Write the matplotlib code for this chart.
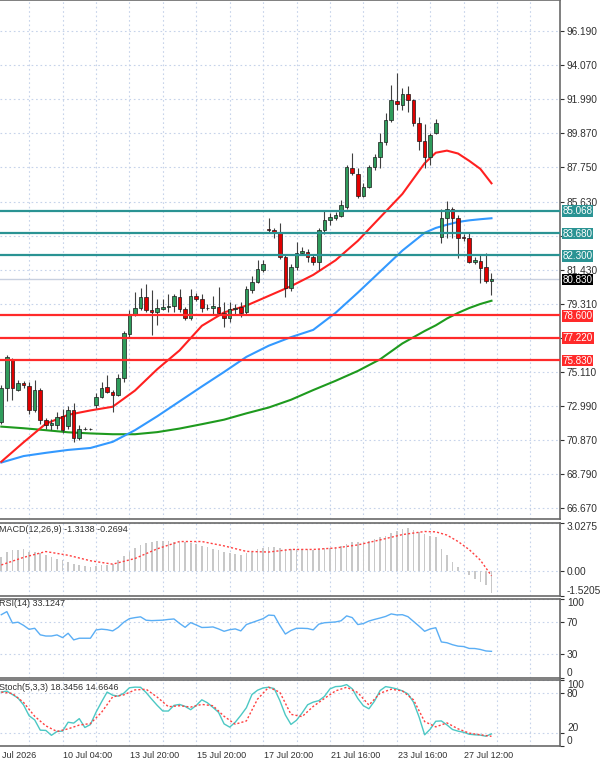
import numpy as np
import matplotlib.pyplot as plt
from matplotlib import transforms

# 4H candles (oldest first)
opens = [72.03, 74.09, 75.84, 74.00, 74.43, 74.20, 72.75, 73.98, 72.13, 71.82,
         71.82, 72.37, 71.75, 72.75, 71.00, 71.56, 71.60, 73.06, 73.57, 74.19,
         73.88, 73.67, 74.73, 77.45, 78.65, 79.03, 79.71, 78.93, 78.82, 79.00,
         79.12, 79.20, 79.75, 78.97, 78.41, 79.80, 79.59, 79.03, 79.03, 79.13,
         78.72, 78.41, 78.97, 79.10, 78.80, 80.17, 80.68, 81.40, 83.93, 83.87,
         83.67, 82.22, 80.27, 81.57, 82.45, 82.53, 82.22, 81.91, 83.87, 84.49,
         84.60, 84.74, 85.31, 87.69, 87.33, 85.98, 86.55, 87.79, 88.40, 89.33,
         90.67, 91.86, 91.60, 92.28, 91.90, 90.47, 89.37, 88.40, 89.85, 83.46,
         84.60, 85.17, 84.60, 83.46, 83.36, 81.92, 81.98, 81.60, 80.75]
highs = [74.30, 76.15, 75.96, 74.60, 74.55, 74.50, 74.60, 74.10, 72.25, 72.20,
         72.60, 72.80, 73.00, 73.20, 71.80, 71.70, 71.65, 73.80, 74.50, 74.90,
         74.00, 75.00, 77.60, 78.90, 80.06, 80.27, 80.53, 80.16, 79.60, 79.60,
         79.90, 79.90, 80.20, 79.10, 80.20, 79.95, 79.90, 79.30, 79.80, 80.37,
         79.40, 79.40, 79.30, 79.40, 80.40, 81.00, 82.02, 82.00, 84.60, 83.97,
         84.30, 82.40, 81.80, 83.15, 82.80, 82.70, 82.40, 84.00, 85.10, 84.90,
         85.00, 85.73, 87.90, 88.61, 87.69, 86.80, 87.90, 88.60, 89.85, 91.10,
         92.84, 93.55, 92.63, 92.80, 92.00, 90.88, 90.40, 89.90, 90.72, 85.20,
         85.65, 85.31, 84.80, 83.60, 83.67, 82.20, 82.30, 82.43, 81.20]
lows = [71.90, 73.30, 73.37, 73.90, 74.10, 72.50, 72.60, 71.90, 71.60, 71.50,
        71.60, 71.30, 71.60, 70.80, 70.90, 71.50, 71.50, 72.90, 73.50, 73.80,
        72.60, 73.60, 74.50, 77.20, 78.55, 78.90, 78.80, 77.38, 78.00, 78.90,
        78.80, 78.80, 78.80, 78.30, 78.30, 79.50, 78.80, 78.90, 78.70, 78.60,
        77.90, 78.20, 78.60, 78.50, 78.60, 80.00, 80.60, 81.30, 83.75, 83.36,
        82.10, 79.75, 80.10, 81.40, 82.30, 81.90, 81.70, 81.40, 83.60, 84.20,
        84.50, 84.70, 85.20, 87.27, 85.83, 85.90, 86.50, 87.60, 87.70, 89.10,
        90.57, 91.29, 91.29, 91.19, 90.30, 88.82, 87.70, 87.90, 89.78, 83.05,
        83.36, 83.36, 82.12, 83.20, 81.81, 81.80, 80.60, 80.60, 79.85]
closes = [74.09, 76.04, 74.09, 74.43, 74.29, 72.75, 73.98, 72.13, 71.82, 71.96,
          72.33, 71.50, 72.75, 71.00, 71.56, 71.60, 71.55, 73.57, 74.09, 73.88,
          73.67, 74.70, 77.50, 78.65, 79.03, 79.71, 78.93, 78.82, 79.03, 79.12,
          79.20, 79.80, 78.97, 78.45, 79.80, 79.59, 79.03, 79.08, 79.17, 78.72,
          78.41, 78.97, 79.07, 78.72, 80.20, 80.68, 81.45, 81.77, 83.85, 83.67,
          82.22, 80.27, 81.57, 82.47, 82.57, 82.22, 81.91, 83.87, 84.49, 84.69,
          84.80, 85.42, 87.75, 87.38, 85.98, 86.55, 87.79, 88.37, 89.33, 90.67,
          91.90, 91.64, 92.28, 91.90, 90.47, 89.37, 88.40, 89.75, 90.50, 84.60,
          85.17, 84.60, 83.36, 83.36, 81.91, 82.05, 81.50, 80.70, 80.83]

# moving averages, sampled at these candles
ma_idx = [0, 4, 8, 12, 16, 20, 24, 28, 32, 36, 40, 44, 48, 52, 56, 60, 64, 68, 72, 76,
          78, 80, 82, 84, 86, 88]
ma_red = [69.55, 70.75, 71.90, 72.45, 72.72, 72.95, 73.95, 75.27, 76.43, 77.95,
          78.78, 79.20, 79.80, 80.40, 81.10, 82.00, 83.20, 84.65, 86.10, 88.00,
          88.65, 88.78, 88.60, 88.15, 87.65, 86.76]
ma_blue = [69.50, 69.90, 70.10, 70.28, 70.40, 70.78, 71.50, 72.36, 73.28, 74.20,
           75.10, 76.03, 76.72, 77.25, 77.70, 78.75, 80.00, 81.30, 82.60, 83.70,
           84.00, 84.20, 84.37, 84.47, 84.54, 84.60]
ma_green = [71.72, 71.62, 71.50, 71.37, 71.30, 71.25, 71.25, 71.38, 71.60, 71.87,
            72.15, 72.54, 72.90, 73.38, 73.98, 74.55, 75.16, 75.88, 76.86, 77.63,
            77.98, 78.40, 78.75, 79.05, 79.30, 79.50]

teal_levels = [85.068, 83.680, 82.300]
red_levels = [78.600, 77.220, 75.830]
bid = 80.830
price_ticks = [96.19, 94.07, 91.99, 89.87, 87.75, 85.63, 83.53, 81.43, 79.31,
               77.21, 75.11, 72.99, 70.87, 68.79, 66.67]
hidden_ticks = [83.53, 77.21]

macd_main = [0.88, 1.19, 1.30, 1.34, 1.40, 1.23, 1.19, 1.15, 1.03, 0.88,
             0.78, 0.68, 0.58, 0.47, 0.37, 0.33, 0.27, 0.33, 0.41, 0.41,
             0.47, 0.68, 0.95, 1.19, 1.46, 1.65, 1.77, 1.85, 1.91, 1.91,
             1.89, 1.85, 1.85, 1.81, 1.77, 1.71, 1.60, 1.50, 1.40, 1.30,
             1.19, 1.15, 1.09, 1.03, 1.15, 1.23, 1.36, 1.44, 1.50, 1.50,
             1.48, 1.40, 1.36, 1.36, 1.36, 1.36, 1.32, 1.40, 1.44, 1.48,
             1.50, 1.56, 1.71, 1.81, 1.85, 1.85, 1.91, 2.02, 2.12, 2.22,
             2.39, 2.53, 2.63, 2.67, 2.59, 2.47, 2.33, 2.22, 2.12, 1.40,
             0.99, 0.58, 0.27, 0.02, -0.20, -0.45, -0.66, -0.86, -1.31]
macd_signal = [0.40, 0.87, 1.23, 1.00, 0.66, 0.45, 0.80, 1.40, 1.85, 1.85,
               1.58, 1.24, 1.20, 1.36, 1.36, 1.45, 1.64, 1.95, 2.28, 2.47,
               2.45, 2.25, 1.85, 1.35, 0.70, -0.27]

rsi = [79.5, 83.4, 69.0, 70.0, 66.0, 61.0, 62.3, 54.0, 52.5, 52.5,
       53.9, 50.5, 56.0, 47.6, 49.7, 49.7, 49.7, 60.2, 61.2, 60.5,
       59.0, 63.5, 70.0, 74.5, 75.8, 76.8, 72.5, 72.0, 72.3, 72.6,
       73.5, 74.1, 68.5, 63.5, 69.5, 66.5, 63.3, 63.5, 64.0, 61.5,
       58.5, 60.5, 61.5, 59.0, 67.0, 69.5, 72.0, 74.5, 79.0, 78.5,
       66.0, 55.0, 59.5, 62.3, 62.3, 62.0, 60.3, 67.5, 69.3, 69.8,
       70.3, 71.8, 78.0, 75.8, 67.0, 68.3, 71.5, 73.5, 75.3, 77.3,
       80.5, 79.2, 79.5, 77.0, 71.0, 65.0, 58.5, 61.5, 63.0, 45.0,
       44.0, 41.5, 39.7, 39.2, 36.8, 36.7, 35.5, 33.6, 33.12]

stoch_main = [81.7, 83.2, 78.0, 72.7, 62.2, 45.8, 39.5, 24.0, 23.6, 16.2,
              22.0, 22.6, 36.0, 34.7, 41.5, 28.0, 32.5, 51.0, 66.8, 81.7,
              77.0, 75.5, 80.0, 88.2, 89.2, 89.0, 81.0, 71.0, 61.5, 53.0,
              53.0, 61.5, 63.0, 60.0, 55.0, 61.5, 70.0, 65.5, 58.5, 51.0,
              33.5, 28.6, 36.0, 46.5, 58.0, 78.0, 84.5, 88.0, 89.0, 87.0,
              69.0, 47.0, 32.7, 39.0, 50.0, 62.5, 66.5, 68.7, 75.0, 86.5,
              90.0, 90.5, 93.0, 86.7, 72.0, 61.0, 56.4, 68.0, 84.0, 90.0,
              88.5, 86.5, 83.5, 79.0, 66.5, 44.0, 17.0, 25.5, 37.5, 38.0,
              32.0, 25.0, 22.5, 20.8, 17.8, 17.0, 16.5, 14.8, 18.35]
# signal line read at every second candle
stoch_signal = [81.7, 79.5, 66.0, 45.0, 30.5, 22.0, 26.0, 31.7, 34.0, 51.0,
                74.5, 77.5, 85.0, 86.0, 74.0, 59.5, 61.0, 59.0, 63.0, 61.0,
                45.0, 33.0, 38.0, 71.0, 89.0, 81.5, 48.0, 44.5, 60.0, 72.0,
                83.5, 89.0, 81.0, 62.0, 80.0, 86.0, 83.5, 70.0, 37.0, 29.0,
                35.0, 26.0, 19.5, 17.0, 14.66]

# first label is cut by the left edge in the original, only "Jul 2026" shows
date_idx = [-0.1, 11, 23, 35, 47, 59, 71, 83]
date_labels = ["Jul 2026", "10 Jul 04:00", "13 Jul 20:00", "15 Jul 20:00",
               "17 Jul 20:00", "21 Jul 16:00", "23 Jul 16:00", "27 Jul 12:00"]

plt.rcParams['font.family'] = ['Liberation Sans', 'DejaVu Sans']

GRID = '#c6d3ea'
BULL = '#2f9c5c'
BEAR = '#e00000'
TEAL = '#2a9393'
LVRED = '#ff2a2a'
TXT = '#303030'

W, H = 600, 760
fig = plt.figure(figsize=(6, 7.6), dpi=100)


def panel(top, bottom):
    return fig.add_axes([0, 1 - bottom / H, 560 / W, (bottom - top) / H])


ax = panel(0, 519)
ax_macd = panel(522.5, 596)
ax_rsi = panel(598.5, 677.5)
ax_sto = panel(680, 746)

n = len(closes)
x = np.arange(n)
grid_x = np.arange(5, 101, 6)

for a in (ax, ax_macd, ax_rsi, ax_sto):
    a.set_xlim(-0.23, 100.3)
    a.set_xticks(grid_x)
    a.tick_params(axis='x', length=0, labelbottom=False)
    a.grid(True, color=GRID, linestyle=(0, (1.5, 2.5)), linewidth=0.8)
    a.set_axisbelow(True)
    a.yaxis.tick_right()
    a.tick_params(axis='y', length=3, width=0.8, colors=TXT, labelsize=7.3, pad=2)
    for s in a.spines.values():
        s.set_color('#6a6a6a')
        s.set_linewidth(1.2)
    a.spines['left'].set_visible(False)

# ---- main price panel
ax.set_ylim(66.01, 98.09)
ax.set_yticks(price_ticks)
ax.set_yticklabels(['' if p in hidden_ticks else f'{p:.3f}' for p in price_ticks])

ax.axhline(bid, color='#c8d0e0', lw=1.0, zorder=1)
ax.plot(ma_idx, ma_green, color='#1e9a1e', lw=1.5, zorder=2)
ax.plot(ma_idx, ma_blue, color='#3399ff', lw=1.5, zorder=2)
ax.plot(ma_idx, ma_red, color='#ff2020', lw=1.5, zorder=2)

o = np.array(opens)
c = np.array(closes)
up = c >= o
ax.vlines(x, lows, highs, color='#404040', lw=0.8, zorder=3)
body_h = np.maximum(np.abs(c - o), 0.04)
ax.bar(x, body_h, bottom=np.minimum(o, c), width=0.64,
       color=np.where(up, BULL, BEAR), edgecolor='#1a1a1a', linewidth=0.5, zorder=4)

for lv in teal_levels:
    ax.axhline(lv, color=TEAL, lw=1.6, zorder=5)
for lv in red_levels:
    ax.axhline(lv, color=LVRED, lw=1.6, zorder=5)

boxes = [(lv, TEAL) for lv in teal_levels] + [(lv, LVRED) for lv in red_levels] + [(bid, '#000000')]
for lv, col in boxes:
    ax.annotate(f'{lv:.3f}', xy=(1, lv), xycoords=('axes fraction', 'data'),
                xytext=(1.8, -0.3), textcoords='offset points', ha='left', va='center',
                fontsize=7.1, color='white', annotation_clip=False, zorder=6,
                bbox=dict(boxstyle='square,pad=0.08', fc=col, ec='none'))

# ---- MACD
ax_macd.set_ylim(-1.5205, 3.0275)
ax_macd.bar(x, macd_main, width=0.3, color='#c8c8c8', zorder=2)
ax_macd.plot(ma_idx, macd_signal, color='#ff4040', lw=1.0, linestyle=(0, (1.5, 1.5)), zorder=3)
ax_macd.set_yticks([-1.5205, 0, 3.0275])
ax_macd.set_yticklabels(['-1.5205', '0.00', '3.0275'])

# ---- RSI
ax_rsi.set_ylim(0, 100)
ax_rsi.plot(x, rsi, color='#5aaef5', lw=1.0, zorder=3)
ax_rsi.set_yticks([0, 30, 70, 100])
ax_rsi.set_yticklabels(['0', '30', '70', '100'])

# ---- Stochastic
ax_sto.set_ylim(0, 100)
ax_sto.plot(x, stoch_main, color='#4cc8c4', lw=1.0, zorder=3)
ax_sto.plot(x[::2], stoch_signal, color='#ff4040', lw=1.0, linestyle=(0, (1.5, 1.5)), zorder=3)
ax_sto.set_yticks([0, 20, 80, 100])
ax_sto.set_yticklabels(['0', '20', '80', '100'])

for a in (ax_macd, ax_rsi, ax_sto):
    lbls = a.get_yticklabels()
    lbls[0].set_va('bottom')
    lbls[-1].set_va('top')
# "20" sits just above the "0" on the stochastic scale
ax_sto.get_yticklabels()[1].set_va('bottom')

# indicator captions
fig.text(-0.002, 1 - 530 / H, 'MACD(12,26,9) -1.3138 -0.2694', fontsize=6.5, color=TXT, va='center')
fig.text(-0.002, 1 - 603 / H, 'RSI(14) 33.1247', fontsize=6.5, color=TXT, va='center')
fig.text(-0.002, 1 - 688 / H, 'Stoch(5,3,3) 18.3456 14.6646', fontsize=6.5, color=TXT, va='center')

# date labels under the last panel
trans = transforms.blended_transform_factory(ax_sto.transData, fig.transFigure)
for di, lab in zip(date_idx, date_labels):
    ax_sto.text(di + 0.15, 1 - 755 / H, lab, transform=trans, fontsize=6.5,
                color=TXT, ha='left', va='center', clip_on=False)

fig.savefig('out.png', dpi=100, facecolor='white')
